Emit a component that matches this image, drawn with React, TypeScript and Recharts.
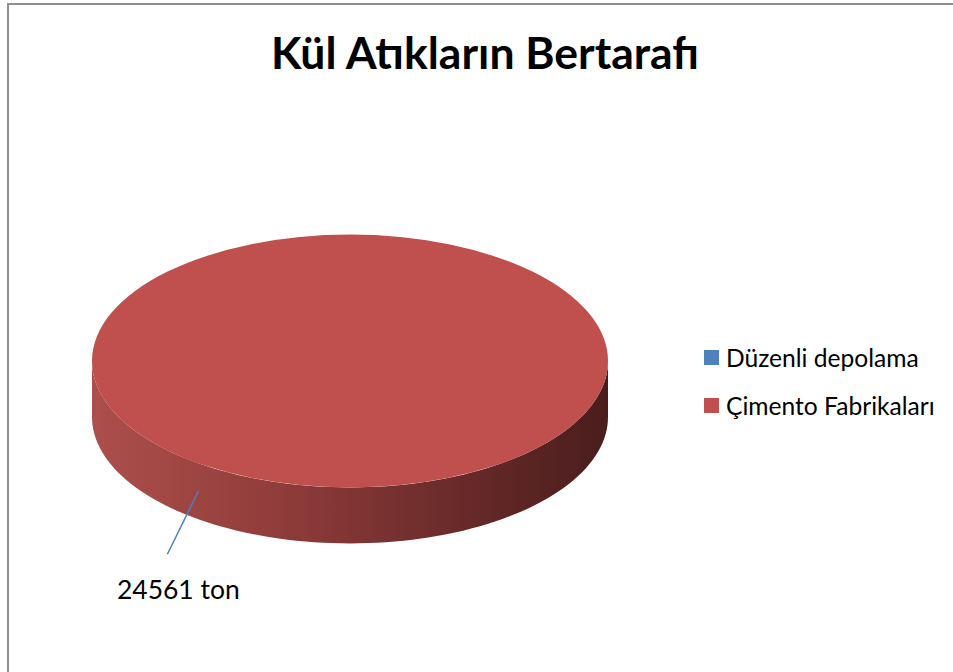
import { PieChart, Pie, Cell, Legend } from 'recharts'

const categories = ['Düzenli depolama', 'Çimento Fabrikaları']
const values = [0, 24561]
const colors = ['#4f81bd', '#c0504d']
const unit = 'ton'
const title = 'Kül Atıkların Bertarafı'

const data = categories.map((name, i) => ({ name, value: values[i] }))

const W = 953
const H = 672
const TILT = 0.49 // ry / rx of the top face
const DEPTH = 56 // thickness of the cake
const RAD = Math.PI / 180
const FONT = 'Lato, "Liberation Sans", sans-serif'

// elliptical point for a recharts angle
const pt = (cx: number, cy: number, rx: number, ry: number, deg: number) => ({
  x: cx + rx * Math.cos(-deg * RAD),
  y: cy + ry * Math.sin(-deg * RAD),
})

function Slice3D(props: any) {
  const { cx, cy, outerRadius, startAngle, endAngle, fill } = props
  if (!outerRadius || Math.abs(endAngle - startAngle) < 0.01) return null
  const rx = outerRadius
  const ry = outerRadius * TILT
  const a0 = Math.min(startAngle, endAngle)
  const a1 = Math.max(startAngle, endAngle)
  const full = a1 - a0 >= 359.99

  // front wall: parts of the arc that face the viewer (sin < 0 in recharts angles)
  const steps = 180
  const runs: { x: number; y: number }[][] = []
  let cur: { x: number; y: number }[] = []
  for (let i = 0; i <= steps; i++) {
    const a = a0 + ((a1 - a0) * i) / steps
    if (Math.sin(a * RAD) <= 0.0001) {
      cur.push(pt(cx, cy, rx, ry, a))
    } else if (cur.length) {
      runs.push(cur)
      cur = []
    }
  }
  if (cur.length) runs.push(cur)
  const walls = runs
    .filter((r) => r.length > 1)
    .map((r) => {
      const top = r.map((p, i) => `${i ? 'L' : 'M'}${p.x},${p.y}`).join(' ')
      const bottom = r
        .slice()
        .reverse()
        .map((p) => `L${p.x},${p.y + DEPTH}`)
        .join(' ')
      return `${top} ${bottom} Z`
    })

  let topPath: string
  if (full) {
    topPath = `M${cx - rx},${cy} A${rx},${ry} 0 1,0 ${cx + rx},${cy} A${rx},${ry} 0 1,0 ${cx - rx},${cy} Z`
  } else {
    const p0 = pt(cx, cy, rx, ry, a0)
    const p1 = pt(cx, cy, rx, ry, a1)
    const large = a1 - a0 > 180 ? 1 : 0
    topPath = `M${cx},${cy} L${p0.x},${p0.y} A${rx},${ry} 0 ${large},0 ${p1.x},${p1.y} Z`
  }

  return (
    <g>
      <defs>
        <linearGradient id="wallGradient" x1="0" y1="0" x2="1" y2="0">
          <stop offset="0%" stopColor="#ad4f4c" />
          <stop offset="35%" stopColor="#913d3b" />
          <stop offset="70%" stopColor="#6a2b2a" />
          <stop offset="100%" stopColor="#4a1d1d" />
        </linearGradient>
      </defs>
      {walls.map((d, i) => (
        <path key={i} d={d} fill="url(#wallGradient)" />
      ))}
      <path d={topPath} fill={fill} />
    </g>
  )
}

function SliceLabel(props: any) {
  const { cx, cy, outerRadius, midAngle, value } = props
  if (!value) return null
  const rx = outerRadius
  const ry = outerRadius * TILT
  const p = pt(cx, cy, rx, ry, midAngle)
  const sx = p.x
  const sy = p.y + DEPTH / 2
  const ex = sx - 31
  const ey = sy + 63
  return (
    <g>
      <line x1={sx} y1={sy} x2={ex} y2={ey} stroke="#4f81bd" strokeWidth={1.5} />
      <text x={ex + 11} y={ey + 45} textAnchor="middle" fontFamily={FONT} fontSize={26.5} fill="#000">
        {`${value} ${unit}`}
      </text>
    </g>
  )
}

function LegendBox({ payload }: any) {
  return (
    <div style={{ fontFamily: FONT, fontSize: 24.6, color: '#000' }}>
      {(payload || []).map((entry: any, i: number) => (
        <div key={i} style={{ display: 'flex', alignItems: 'center', height: 30, marginBottom: 18 }}>
          <span style={{ width: 15, height: 15, background: entry.color, marginRight: 7, display: 'inline-block' }} />
          <span style={{ whiteSpace: 'nowrap' }}>{entry.value}</span>
        </div>
      ))}
    </div>
  )
}

export default function App() {
  return (
    <div style={{ position: 'absolute', left: 0, top: 0, width: W, height: H, background: '#fff', overflow: 'hidden' }}>
      <div
        style={{
          position: 'absolute',
          left: 7,
          top: 3,
          width: W,
          height: H,
          borderLeft: '2px solid #8f8f8f',
          borderTop: '2px solid #8f8f8f',
        }}
      />
      <svg width={W} height={H} style={{ position: 'absolute', left: 0, top: 0 }}>
        <text x={485} y={69} textAnchor="middle" fontFamily={FONT} fontWeight="bold" fontSize={44.5} fill="#000">
          {title}
        </text>
      </svg>
      <div style={{ position: 'absolute', left: 0, top: 0 }}>
        <PieChart width={W} height={H} margin={{ top: 0, right: 0, bottom: 0, left: 0 }}>
          <Pie
            data={data}
            dataKey="value"
            nameKey="name"
            cx={350}
            cy={361}
            outerRadius={258}
            startAngle={54}
            endAngle={-306}
            stroke="none"
            shape={Slice3D}
            label={SliceLabel}
            labelLine={false}
            isAnimationActive={false}
          >
            {data.map((d, i) => (
              <Cell key={d.name} fill={colors[i]} />
            ))}
          </Pie>
          <Legend
            layout="vertical"
            align="right"
            verticalAlign="top"
            content={LegendBox}
            wrapperStyle={{ position: 'absolute', left: 704, top: 342, width: 249 }}
          />
        </PieChart>
      </div>
    </div>
  )
}
